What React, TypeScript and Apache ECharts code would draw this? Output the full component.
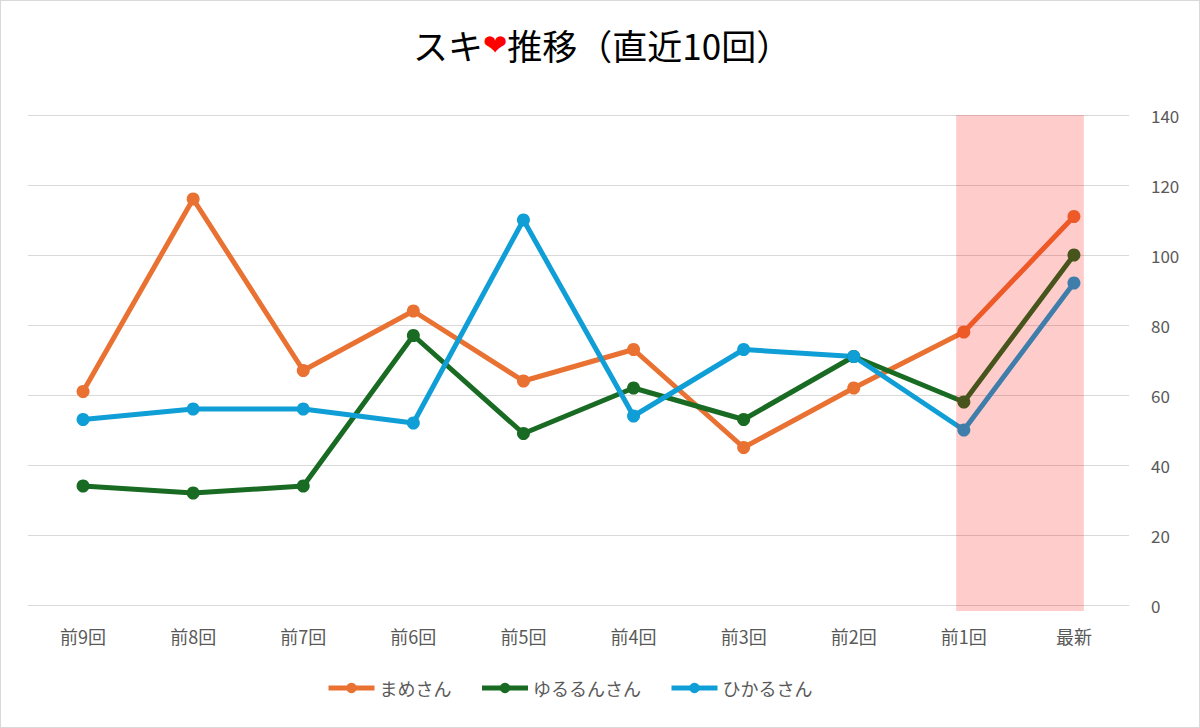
import React, { useEffect, useRef } from "react";
import * as echarts from "echarts";

const categories = ["前9回", "前8回", "前7回", "前6回", "前5回", "前4回", "前3回", "前2回", "前1回", "最新"];
const mame = [61, 116, 67, 84, 64, 73, 45, 62, 78, 111];
const yururun = [34, 32, 34, 77, 49, 62, 53, 71, 58, 100];
const hikaru = [53, 56, 56, 52, 110, 54, 73, 71, 50, 92];
const seriesNames = ["まめさん", "ゆるるんさん", "ひかるさん"];
const seriesColors = ["#E97132", "#196B24", "#0F9ED5"];
// highlight band: [x start, x end] in category index units (-0.5..9.5), [top, bottom] in values
const highlightBand = [[7.93, 9.09, 140, -1.7]];

const FONT = "'Noto Sans CJK JP', 'Noto Sans', sans-serif";

export default function App() {
  const ref = useRef<HTMLDivElement>(null);
  useEffect(() => {
    document.body.style.margin = "0";
    const chart = echarts.init(ref.current!, undefined, { renderer: "svg" });
    const data = [mame, yururun, hikaru];
    chart.setOption({
      animation: false,
      backgroundColor: "#ffffff",
      textStyle: { fontFamily: FONT },
      title: {
        text: "スキ{h|❤}推移（直近10回）",
        left: 407,
        top: 21,
        textStyle: {
          fontSize: 35,
          fontWeight: "normal",
          color: "#000000",
          fontFamily: FONT,
          rich: {
            h: { color: "#FF0000", fontSize: 29, fontFamily: "'DejaVu Sans', sans-serif" },
          },
        },
      },
      legend: {
        bottom: 25,
        left: 320,
        itemWidth: 46,
        itemHeight: 13,
        itemGap: 28,
        lineStyle: { width: 5 },
        textStyle: { fontSize: 18, color: "#595959", fontFamily: FONT },
        data: seriesNames,
      },
      grid: { left: 27, right: 70, top: 114, bottom: 122 },
      xAxis: [
        {
          type: "category",
          data: categories,
          boundaryGap: true,
          axisLine: { show: true, lineStyle: { color: "#d9d9d9" } },
          axisTick: { show: false },
          axisLabel: { color: "#595959", fontSize: 18, margin: 22, fontFamily: FONT },
        },
        {
          type: "value",
          min: -0.5,
          max: 9.5,
          show: false,
          position: "bottom",
        },
      ],
      yAxis: {
        type: "value",
        position: "right",
        min: 0,
        max: 140,
        interval: 20,
        axisLine: { show: false },
        axisTick: { show: false },
        splitLine: { lineStyle: { color: "#d9d9d9", width: 1 } },
        axisLabel: { color: "#595959", fontSize: 17, margin: 22, fontFamily: FONT },
      },
      series: [
        ...data.map((d, i) => ({
          name: seriesNames[i],
          type: "line",
          data: d,
          symbol: "circle",
          symbolSize: 13,
          z: 2,
          lineStyle: { width: 5, color: seriesColors[i] },
          itemStyle: { color: seriesColors[i] },
        })),
        {
          name: "highlight",
          type: "custom",
          xAxisIndex: 1,
          z: 10,
          silent: true,
          clip: false,
          data: highlightBand,
          renderItem: (params: any, api: any) => {
            const p0 = api.coord([api.value(0), api.value(2)]);
            const p1 = api.coord([api.value(1), api.value(3)]);
            return {
              type: "rect",
              shape: { x: p0[0], y: p0[1], width: p1[0] - p0[0], height: p1[1] - p0[1] },
              style: { fill: "rgba(255,0,0,0.2)" },
            };
          },
        },
      ],
    });
    return () => chart.dispose();
  }, []);
  return (
    <div
      ref={ref}
      style={{
        position: "absolute",
        left: 0,
        top: 0,
        width: 1200,
        height: 728,
        border: "1px solid #d9d9d9",
        boxSizing: "border-box",
      }}
    />
  );
}
